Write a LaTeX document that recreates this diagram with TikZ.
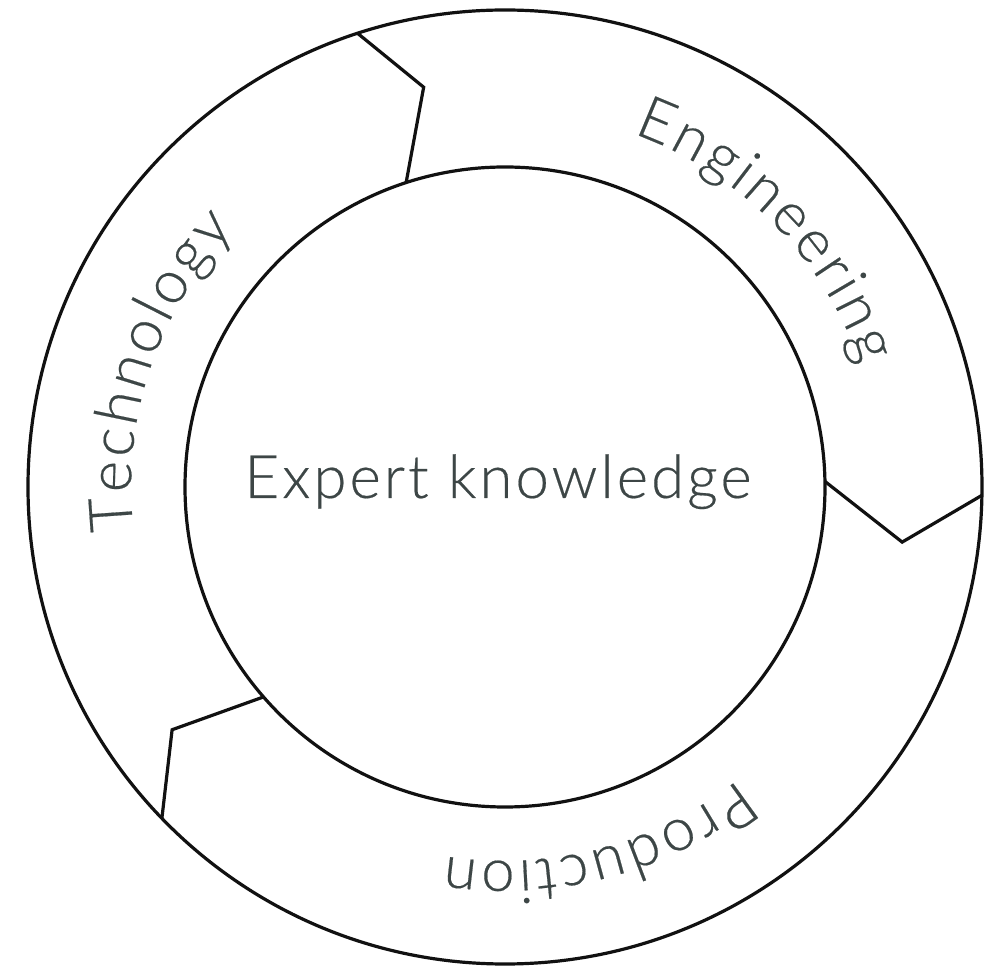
\documentclass[tikz,border=0pt]{standalone}
\usepackage{fontspec}
\setmainfont{Lato Light}[LetterSpace=5, FakeBold=0.3]
\newfontfamily\arcfont{Lato Light}[FakeBold=0.3]
\usetikzlibrary{decorations.text,calc}
\definecolor{txt}{HTML}{3D4646}
\definecolor{ink}{HTML}{111111}
\tikzset{
  ring/.style={circle, draw=ink, line width=3.2pt, inner sep=0pt, outer sep=0pt},
  divider/.style={draw=ink, line width=3.2pt},
  label/.style={text=txt, font=\fontsize{60}{72}\selectfont},
  arctext/.style={decorate, decoration={text effects along path, text={#1}, text align=center,
      text effects/.cd,
      text along path,
      characters={text=txt, font=\arcfont\fontsize{60}{72}\selectfont},
      character widths={inner xsep=1.5pt, font=\arcfont\fontsize{60}{72}\selectfont}}}
}
\begin{document}
\begin{tikzpicture}[x=1pt,y=1pt]
  \useasboundingbox[fill=white] (0,0) rectangle (997,970);
  \coordinate (C) at (505,483);
  \node[ring, minimum size=954pt] (outer) at (C) {};
  \node[ring, minimum size=640pt] (inner) at (C) {};
  \node[label, anchor=base] (center) at (498,472) {Expert knowledge};
  % dividers
  \coordinate (tb) at ($(C)+(101.5:408)$);
  \coordinate (rb) at ($(C)+(-7.9:401)$);
  \coordinate (lb) at ($(C)+(216.1:412)$);
  \draw[divider] (outer.108.3) -- (tb) -- (inner.108.7);
  \draw[divider] (inner.1.3) -- (rb) -- (outer.-1.8);
  \draw[divider] (inner.221.3) -- (lb) -- (outer.224.6);
  % curved labels
  \path[arctext=Technology] ($(C)+(211.5:374)$) arc[start angle=211.5, end angle=111.5, radius=374];
  \path[arctext=Engineering] ($(C)+(94.5:376)$) arc[start angle=94.5, end angle=-5.5, radius=376];
  \path[arctext=Production] ($(C)+(-25.3:374)$) arc[start angle=-25.3, end angle=-125.3, radius=374];
\end{tikzpicture}
\end{document}
